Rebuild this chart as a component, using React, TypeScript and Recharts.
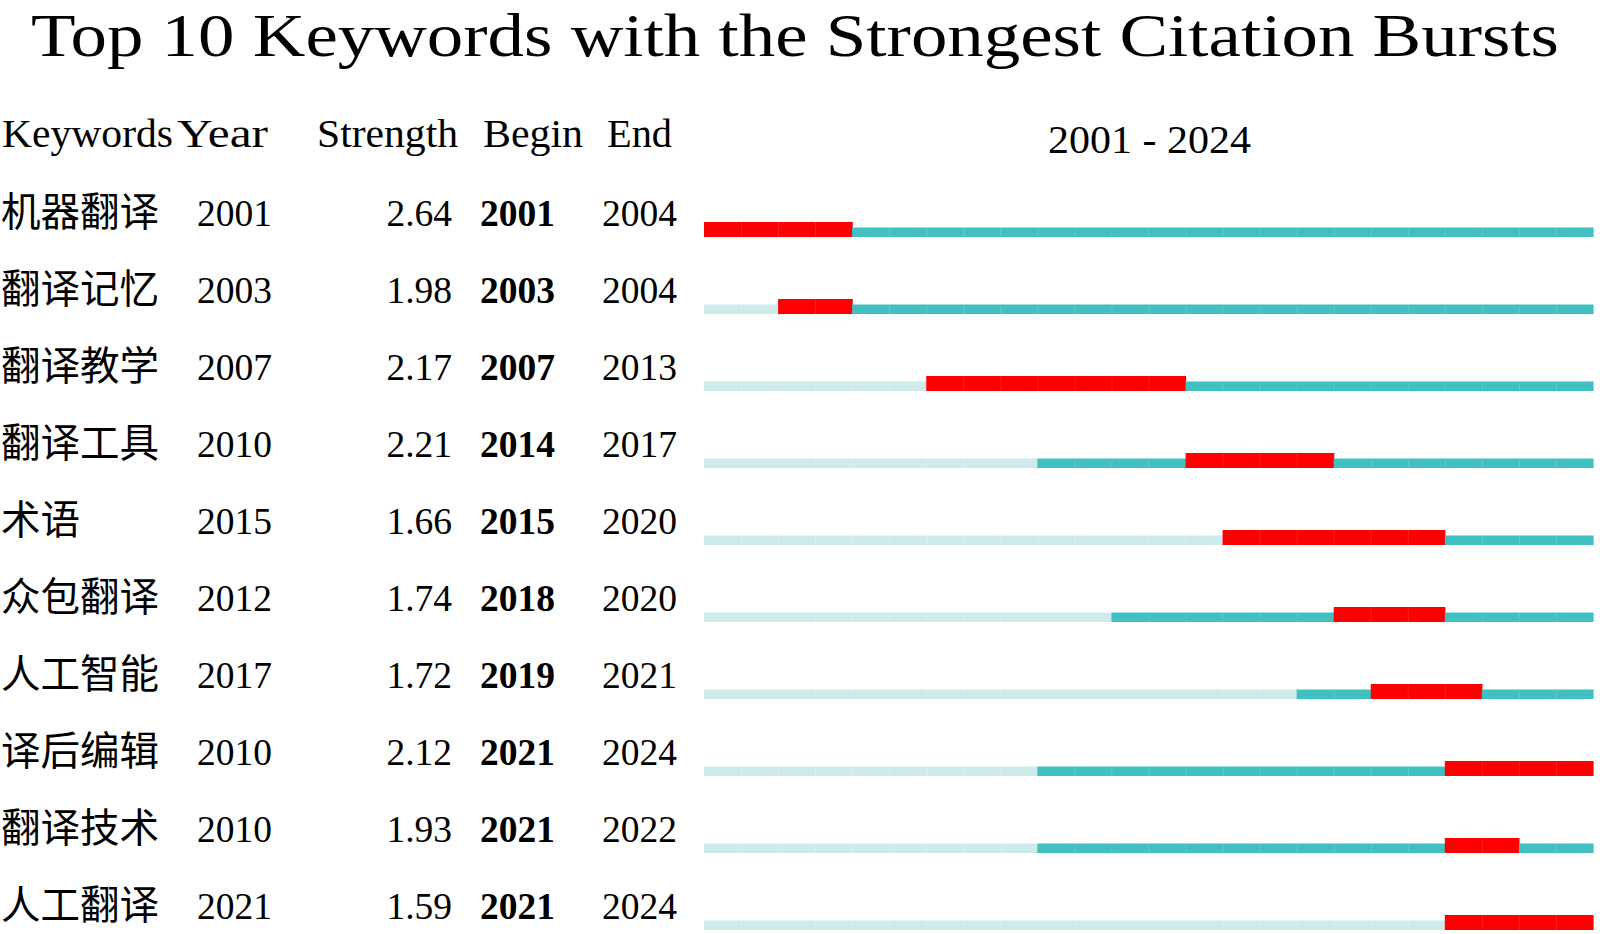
import React from 'react';
import { BarChart, Bar, XAxis, YAxis } from 'recharts';

const keywords = ['机器翻译', '翻译记忆', '翻译教学', '翻译工具', '术语', '众包翻译', '人工智能', '译后编辑', '翻译技术', '人工翻译'];
const firstYears = [2001, 2003, 2007, 2010, 2015, 2012, 2017, 2010, 2010, 2021];
const strengths = ['2.64', '1.98', '2.17', '2.21', '1.66', '1.74', '1.72', '2.12', '1.93', '1.59'];
const beginYears = [2001, 2003, 2007, 2014, 2015, 2018, 2019, 2021, 2021, 2021];
const endYears = [2004, 2004, 2013, 2017, 2020, 2020, 2021, 2024, 2022, 2024];
const spanYears = [
  2001, 2002, 2003, 2004, 2005, 2006, 2007, 2008, 2009, 2010, 2011, 2012,
  2013, 2014, 2015, 2016, 2017, 2018, 2019, 2020, 2021, 2022, 2023, 2024,
];

const COLORS: Record<string, string> = {
  before: '#CDEBEB',
  active: '#40C0C0',
  burst: '#FF0000',
};
const DIVIDER: Record<string, string> = {
  before: 'rgba(255,255,255,0.25)',
  active: 'rgba(255,255,255,0.16)',
  burst: 'rgba(255,200,200,0.15)',
};

const rows = keywords.map((kw, i) => {
  const row: Record<string, any> = { keyword: kw };
  spanYears.forEach((yr, k) => {
    row[`c${k}`] = 1;
    row[`s${k}`] =
      yr < firstYears[i] ? 'before' : yr >= beginYears[i] && yr <= endYears[i] ? 'burst' : 'active';
  });
  return row;
});

const SERIF = '"Liberation Serif", "Times New Roman", serif';
const CJK = '"Noto Sans CJK SC", "Noto Sans CJK TC", sans-serif';

const RowTick = (props: any) => {
  const { y, payload } = props;
  const i = keywords.indexOf(payload.value);
  if (i < 0) return null;
  const base = y - 3.5;
  return (
    <g>
      <text x={1} y={base} fontFamily={CJK} fontSize={39.5} fill="#000">
        {keywords[i]}
      </text>
      <text x={197} y={base} fontFamily={SERIF} fontSize={37.5} fill="#000">
        {firstYears[i]}
      </text>
      <text x={452} y={base} fontFamily={SERIF} fontSize={37.5} fill="#000" textAnchor="end">
        {strengths[i]}
      </text>
      <text x={480} y={base} fontFamily={SERIF} fontSize={37.5} fontWeight="bold" fill="#000">
        {beginYears[i]}
      </text>
      <text x={602} y={base} fontFamily={SERIF} fontSize={37.5} fill="#000">
        {endYears[i]}
      </text>
    </g>
  );
};

const makeShape = (k: number) => (props: any) => {
  const { x, y, width, height, payload } = props;
  if (x == null || y == null) return null;
  const status = payload[`s${k}`];
  const prev = k > 0 ? payload[`s${k - 1}`] : null;
  const thin = 9.5;
  const isBurst = status === 'burst';
  const ry = isBurst ? y : y + height - thin;
  const rh = isBurst ? height : thin;
  return (
    <g>
      <rect x={x} y={ry} width={width + 0.6} height={rh} fill={COLORS[status]} />
      {prev === status && (
        <rect x={x} y={ry} width={1} height={rh} fill={DIVIDER[status]} />
      )}
    </g>
  );
};

export default function App() {
  return (
    <div
      style={{
        position: 'absolute',
        left: 0,
        top: 0,
        width: 1600,
        height: 934,
        overflow: 'hidden',
        background: '#fff',
      }}
    >
      <BarChart
        width={1600}
        height={1000}
        data={rows}
        layout="vertical"
        margin={{ top: 191, right: 7, bottom: 39, left: 0 }}
        barCategoryGap={0}
      >
        <XAxis type="number" domain={[0, spanYears.length]} hide />
        <YAxis
          type="category"
          dataKey="keyword"
          width={704}
          axisLine={false}
          tickLine={false}
          interval={0}
          tick={RowTick}
        />
        {spanYears.map((yr, k) => (
          <Bar
            key={yr}
            dataKey={`c${k}`}
            stackId="burst"
            barSize={15}
            isAnimationActive={false}
            shape={makeShape(k)}
          />
        ))}
        <text
          x={31}
          y={55.5}
          fontFamily={SERIF}
          fontSize={62}
          textLength={1528}
          lengthAdjust="spacingAndGlyphs"
          fill="#000"
        >
          Top 10 Keywords with the Strongest Citation Bursts
        </text>
        <text x={2} y={147} fontFamily={SERIF} fontSize={39.5} textLength={171} lengthAdjust="spacingAndGlyphs" fill="#000">
          Keywords
        </text>
        <text x={177} y={147} fontFamily={SERIF} fontSize={39.5} textLength={91} lengthAdjust="spacingAndGlyphs" fill="#000">
          Year
        </text>
        <text x={317} y={147} fontFamily={SERIF} fontSize={39.5} textLength={141} lengthAdjust="spacingAndGlyphs" fill="#000">
          Strength
        </text>
        <text x={483} y={147} fontFamily={SERIF} fontSize={39.5} textLength={100} lengthAdjust="spacingAndGlyphs" fill="#000">
          Begin
        </text>
        <text x={607} y={147} fontFamily={SERIF} fontSize={39.5} textLength={65} lengthAdjust="spacingAndGlyphs" fill="#000">
          End
        </text>
        <text x={1048} y={152.5} fontFamily={SERIF} fontSize={40} textLength={203} lengthAdjust="spacingAndGlyphs" fill="#000">
          {`${spanYears[0]} - ${spanYears[spanYears.length - 1]}`}
        </text>
      </BarChart>
    </div>
  );
}
